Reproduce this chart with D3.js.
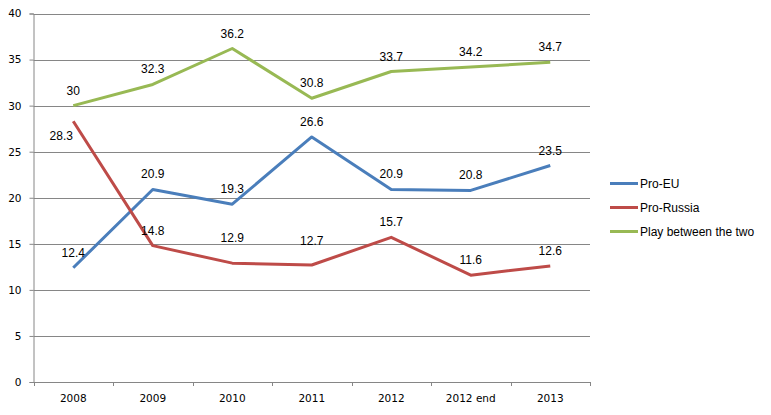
<!DOCTYPE html>
<html>
<head>
<meta charset="utf-8">
<script src="https://cdn.jsdelivr.net/npm/d3@7"></script>
<style>
  html, body { margin: 0; padding: 0; background: #fff; }
  svg { display: block; }
</style>
</head>
<body>
<svg id="chart" width="771" height="415"></svg>
<script>
const categories = ["2008", "2009", "2010", "2011", "2012", "2012 end", "2013"];
const proEU = [12.4, 20.9, 19.3, 26.6, 20.9, 20.8, 23.5];
const proRussia = [28.3, 14.8, 12.9, 12.7, 15.7, 11.6, 12.6];
const playBetween = [30, 32.3, 36.2, 30.8, 33.7, 34.2, 34.7];
const seriesNames = ["Pro-EU", "Pro-Russia", "Play between the two"];
const yTicks = [0, 5, 10, 15, 20, 25, 30, 35, 40];

const colors = ["#4A7EBB", "#BE4B48", "#98B954"];
const seriesValues = [proEU, proRussia, playBetween];

(function () {
const svg = d3.select("#chart");
const mLeft = 33.5, mRight = 590, mTop = 13.5, mBottom = 382;

const x = d3.scaleBand().domain(categories).range([mLeft, mRight]);
const y = d3.scaleLinear().domain([0, 40]).range([mBottom, mTop]);
const cx = c => x(c) + x.bandwidth() / 2;

// gridlines
svg.append("g").selectAll("line").data(yTicks.filter(t => t > 0)).join("line")
  .attr("x1", mLeft).attr("x2", mRight)
  .attr("y1", d => Math.round(y(d)) + 0.5).attr("y2", d => Math.round(y(d)) + 0.5)
  .attr("stroke", "#868686").attr("stroke-width", 1);

// y axis
const yAxis = d3.axisLeft(y).tickValues(yTicks).tickSize(4).tickPadding(8);
const gy = svg.append("g").attr("transform", `translate(${mLeft},0)`).call(yAxis);
gy.select(".domain").attr("stroke", "#868686");
gy.selectAll(".tick line").attr("stroke", "#868686");
gy.selectAll(".tick text").attr("font-family", "DejaVu Sans, sans-serif").attr("font-size", "10.5px").attr("fill", "#000");

// x axis
const xAxis = d3.axisBottom(x).tickSize(0).tickPadding(13);
const gx = svg.append("g").attr("transform", `translate(0,${mBottom})`).call(xAxis);
gx.select(".domain").attr("stroke", "#868686");
gx.selectAll(".tick text").attr("font-family", "DejaVu Sans, sans-serif").attr("font-size", "10.5px").attr("fill", "#000");
const bounds = categories.map(c => x(c)).concat([mRight]);
gx.selectAll(".btick").data(bounds).join("line").attr("class", "btick")
  .attr("x1", d => Math.round(d) + 0.5).attr("x2", d => Math.round(d) + 0.5)
  .attr("y1", 0).attr("y2", 4).attr("stroke", "#868686");

// lines
const line = d3.line().x((d, i) => cx(categories[i])).y(d => y(d));
seriesValues.forEach((vals, si) => {
  svg.append("path").datum(vals).attr("d", line)
    .attr("fill", "none").attr("stroke", colors[si]).attr("stroke-width", 3)
    .attr("stroke-linejoin", "round").attr("stroke-linecap", "butt");
});

// label nudges (style tweaks)
const nudge = { "1-0": [-12, 30], "1-2": [0, -10], "1-3": [0, -9] };
seriesValues.forEach((vals, si) => {
  svg.append("g").selectAll("text").data(vals).join("text")
    .attr("x", (d, i) => cx(categories[i]) + ((nudge[si + "-" + i] || [0, 0])[0]))
    .attr("y", (d, i) => y(d) - 11 + ((nudge[si + "-" + i] || [0, 0])[1]))
    .attr("text-anchor", "middle")
    .attr("font-family", "Liberation Sans, Arial, sans-serif").attr("font-size", "12px").attr("fill", "#000")
    .text(d => d);
});

// legend
const lg = svg.append("g");
seriesNames.forEach((n, i) => {
  const yy = 183.5 + i * 24;
  lg.append("line").attr("x1", 610).attr("x2", 638).attr("y1", yy).attr("y2", yy)
    .attr("stroke", colors[i]).attr("stroke-width", 3);
  lg.append("text").attr("x", 640).attr("y", yy + 4)
    .attr("font-family", "Liberation Sans, Arial, sans-serif").attr("font-size", "12px").attr("fill", "#000")
    .text(n);
});
})();
</script>
</body>
</html>
